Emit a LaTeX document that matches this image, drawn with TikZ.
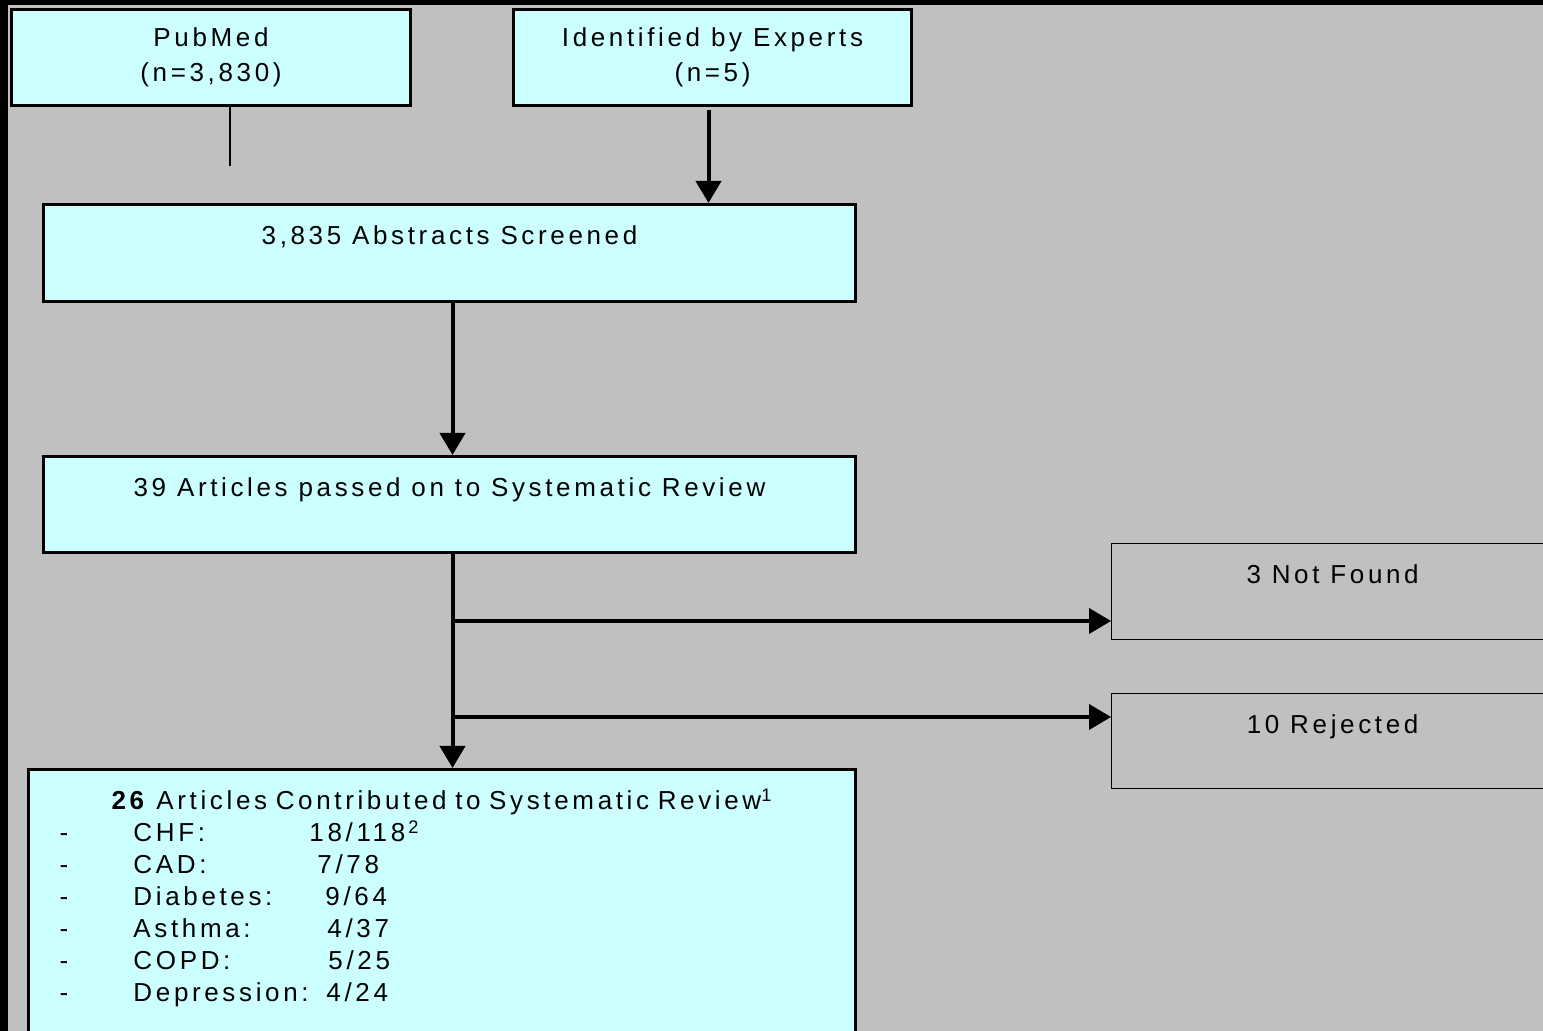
\documentclass[tikz,border=0pt]{standalone}
\usepackage{fontspec}
\setmainfont{Liberation Sans}[LetterSpace=14]
\usetikzlibrary{arrows.meta}
\definecolor{paleblue}{HTML}{CCFFFF}
\definecolor{panelgrey}{HTML}{C0C0C0}
\tikzstyle{bluebox} = [draw, line width=1.5pt, fill=paleblue, inner sep=0pt, align=center, anchor=north west, font=\fontsize{13}{17.5}\selectfont]
\tikzstyle{greybox} = [draw, line width=0.6pt, fill=panelgrey, inner sep=0pt, align=center, anchor=north west, font=\fontsize{13}{17.5}\selectfont]
\tikzstyle{arrow} = [line width=2pt, -{Triangle[length=11pt,width=12.5pt]}]

\begin{document}
\begin{tikzpicture}[x=0.5pt,y=-0.5pt]
\useasboundingbox (0,0) rectangle (1543,1031);
\clip (0,0) rectangle (1543,1031);
\fill[black] (0,0) rectangle (1543,1031);
\fill[panelgrey] (8,5) rectangle (1543,1031);

% sources
\node[bluebox, minimum width=199.5pt, minimum height=48pt] (pubmed) at (10,8) {PubMed\\(n=3,830)};
\node[bluebox, minimum width=199pt, minimum height=48pt] (experts) at (512,8) {Identified by Experts\\(n=5)};

% screening
\node[bluebox, minimum width=406pt, minimum height=48.5pt] (abstracts) at (42,203) {3,835 Abstracts Screened\\\mbox{}};
\node[bluebox, minimum width=406pt, minimum height=48pt] (articles) at (42,455) {39 Articles passed on to Systematic Review\\\mbox{}};

% exclusions
\node[greybox, minimum width=221pt, minimum height=48pt] (notfound) at (1111,543) {3 Not Found\\\mbox{}};
\node[greybox, minimum width=221pt, minimum height=47.5pt] (rejected) at (1111,693) {10 Rejected\\\mbox{}};

% result
\node[bluebox, minimum width=413.5pt, text width=382.5pt, inner xsep=15.5pt, inner ysep=9.5pt, align=left, font=\fontsize{13}{16}\selectfont] (contrib) at (27,768) {%
\makebox[\linewidth]{\textbf{26} Articles Contributed to Systematic Review\textsuperscript{1}}\\
\makebox[37pt][l]{-}\makebox[88pt][l]{CHF:}18/118\textsuperscript{\,2}\\
\makebox[37pt][l]{-}\makebox[92pt][l]{CAD:}7/78\\
\makebox[37pt][l]{-}\makebox[96pt][l]{Diabetes:}9/64\\
\makebox[37pt][l]{-}\makebox[97pt][l]{Asthma:}4/37\\
\makebox[37pt][l]{-}\makebox[97.5pt][l]{COPD:}5/25\\
\makebox[37pt][l]{-}\makebox[96.5pt][l]{Depression:}4/24\\
\mbox{}};

% connectors
\coordinate (stub) at (230,166);
\draw[line width=0.6pt] (stub |- pubmed.south) -- (stub);
\draw[arrow] ([xshift=-2pt,yshift=-1.5pt]experts.south) -- ([xshift=-2pt]experts.south |- abstracts.north);
\draw[arrow] ([xshift=1.5pt]abstracts.south) -- ([xshift=1.5pt]articles.north);
\draw[arrow] ([xshift=1.5pt]articles.south) -- ([xshift=1.5pt]articles.south |- contrib.north);
\coordinate (split1) at (451,621);
\coordinate (split2) at (451,717);
\draw[arrow] (split1) -- (split1 -| notfound.west);
\draw[arrow] (split2) -- (split2 -| rejected.west);
\end{tikzpicture}
\end{document}
